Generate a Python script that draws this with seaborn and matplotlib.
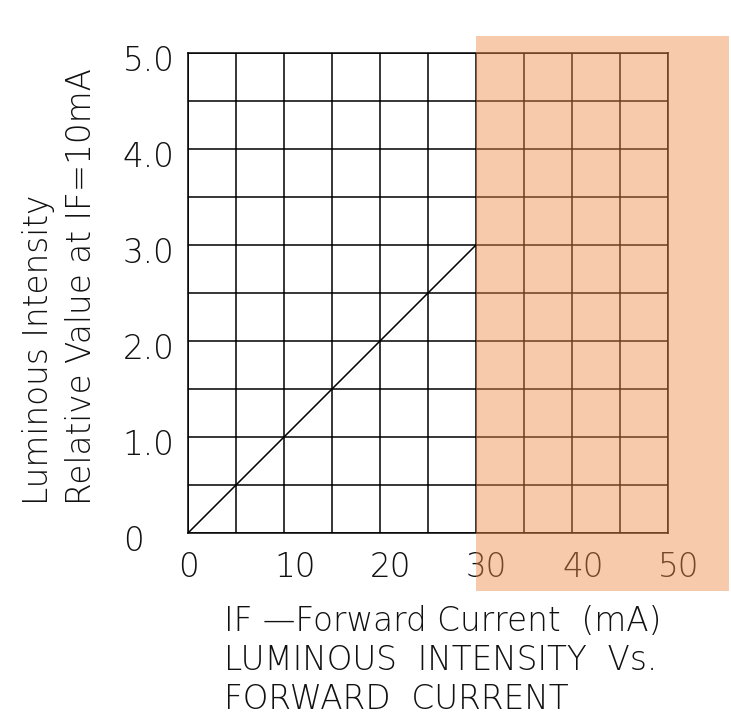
"""
LUMINOUS INTENSITY VS FORWARD CURRENT: datasheet style chart
"""

import numpy as np
import pandas as pd
import matplotlib
matplotlib.use('Agg')
import matplotlib.pyplot as plt
import matplotlib.transforms as mtransforms
from matplotlib.patches import Rectangle
from matplotlib.ticker import MultipleLocator
import seaborn as sns

# data
forward_current = [0, 30]
relative_intensity = [0.0, 3.0]
x_ticks = [0, 10, 20, 30, 40, 50]
y_ticks = [0, 1.0, 2.0, 3.0, 4.0, 5.0]
y_tick_labels = ['0', '1.0', '2.0', '3.0', '4.0', '5.0']
# shaded (out of range) region in data units
shade_x = [30, 56.4]
shade_y = [-0.6, 5.18]

sns.set_theme(style='white')
plt.rcParams['font.family'] = ['DejaVu Sans']
plt.rcParams['font.weight'] = 'light'

TEXT = '#111111'
FS = 23.5

fig = plt.figure(figsize=(7.31, 7.19), dpi=100)
ax = fig.add_axes([188 / 731, 1 - 533 / 719, 480 / 731, 480 / 719])

df = pd.DataFrame({'current': forward_current, 'intensity': relative_intensity})
sns.lineplot(data=df, x='current', y='intensity', ax=ax, color='black', linewidth=1.1)

ax.set_xlim(0, 50)
ax.set_ylim(0, 5)
ax.set_xticks(x_ticks)
ax.set_xticklabels([str(t) for t in x_ticks], ha='left', fontsize=FS)
ax.set_yticks(y_ticks)
ax.set_yticklabels(y_tick_labels, ha='left', fontsize=FS)
ax.xaxis.set_minor_locator(MultipleLocator(5))
ax.yaxis.set_minor_locator(MultipleLocator(0.5))
ax.grid(True, which='both', color='black', linewidth=1.1)
ax.tick_params(which='both', length=0)
ax.tick_params(axis='x', pad=13, colors=TEXT)
ax.tick_params(axis='y', pad=47, colors=TEXT)
for spine in ax.spines.values():
    spine.set_color('black')
    spine.set_linewidth(1.1)

# shift tick labels like the drawing
dx = mtransforms.ScaledTranslation(-10 / 100, 0, fig.dpi_scale_trans)
for lbl in ax.get_xticklabels():
    lbl.set_transform(lbl.get_transform() + dx)
dy = mtransforms.ScaledTranslation(0, -5 / 100, fig.dpi_scale_trans)
for lbl in ax.get_yticklabels():
    lbl.set_transform(lbl.get_transform() + dy)

ax.set_ylabel('Luminous Intensity\nRelative Value at IF=10mA', loc='bottom',
              fontsize=FS, fontweight='light', color=TEXT,
              multialignment='left', linespacing=1.35)
ax.yaxis.label.set_va('center')
ax.yaxis.set_label_coords((60 - 188) / 480, (533 - 505) / 480)

ax.set_xlabel('IF \u2014Forward Current  (mA)\nLUMINOUS  INTENSITY  Vs.\nFORWARD  CURRENT',
              loc='left', fontsize=FS, fontweight='light', color=TEXT, linespacing=1.24)
ax.xaxis.label.set_va('top')
ax.xaxis.set_label_coords((224 - 188) / 480, (533 - 605) / 480)

# out of range region
ax.add_patch(Rectangle((shade_x[0], shade_y[0]), shade_x[1] - shade_x[0],
                       shade_y[1] - shade_y[0], facecolor='#EE8A47', alpha=0.45,
                       edgecolor='none', clip_on=False, zorder=3))

plt.savefig('out.png', dpi=100)
plt.close()
